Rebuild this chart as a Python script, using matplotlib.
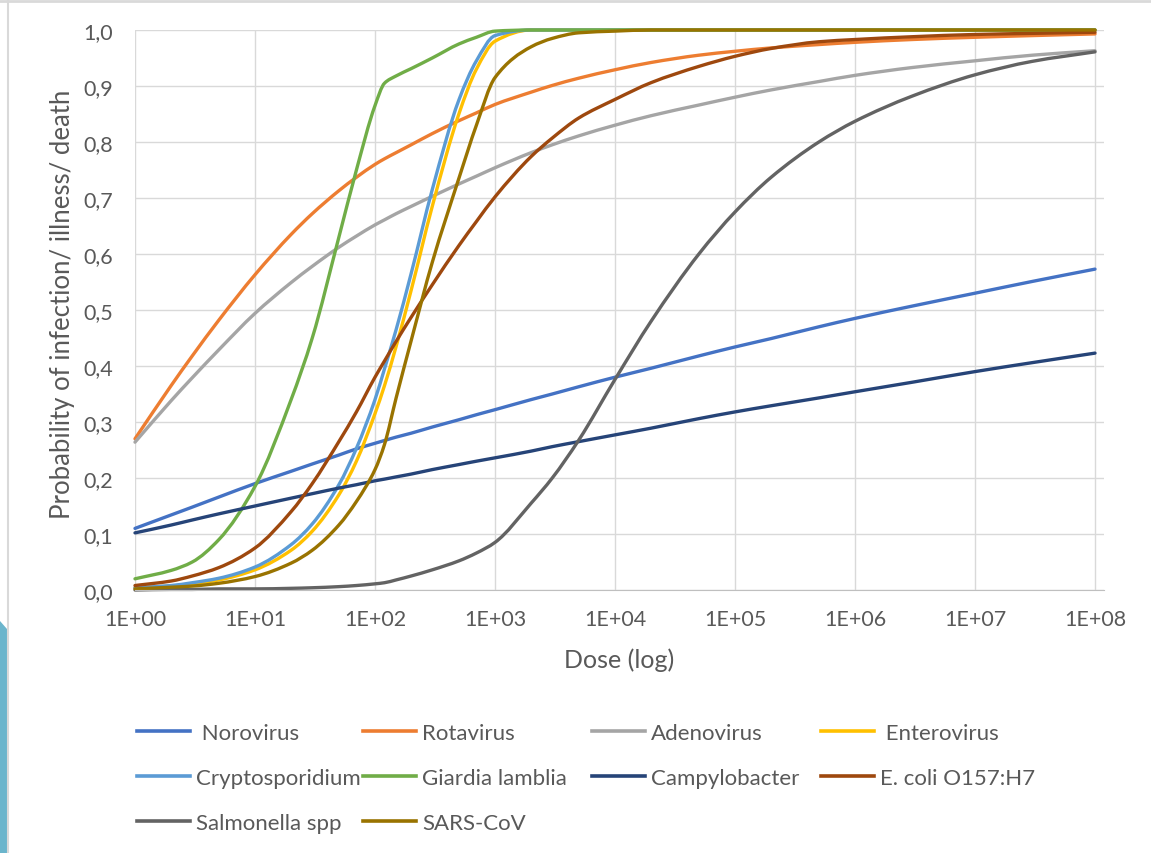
import matplotlib
matplotlib.use('Agg')
import numpy as np
import matplotlib.pyplot as plt
from matplotlib.lines import Line2D
from matplotlib.patches import Polygon, PathPatch
from matplotlib.path import Path
from matplotlib.ticker import FixedLocator, FixedFormatter

# dose points (log axis)
doses = [1, 2, 3, 5, 10, 20, 30, 50, 70, 100, 120, 150, 200, 300, 500, 700,
         1e3, 2e3, 3e3, 5e3, 1e4, 2e4, 5e4, 1e5, 2e5, 5e5, 1e6, 3e6, 1e7, 3e7, 1e8]

norovirus = [0.110, 0.134, 0.148, 0.166, 0.190, 0.212, 0.225, 0.241, 0.252, 0.262, 0.267,
             0.273, 0.280, 0.291, 0.304, 0.313, 0.322, 0.340, 0.350, 0.363, 0.380, 0.396,
             0.418, 0.434, 0.449, 0.470, 0.485, 0.507, 0.530, 0.551, 0.573]
rotavirus = [0.270, 0.365, 0.418, 0.482, 0.563, 0.635, 0.672, 0.713, 0.737, 0.760, 0.770,
             0.781, 0.795, 0.815, 0.838, 0.852, 0.867, 0.889, 0.901, 0.914, 0.929, 0.942,
             0.955, 0.962, 0.968, 0.974, 0.978, 0.983, 0.987, 0.990, 0.993]
adenovirus = [0.264, 0.338, 0.379, 0.429, 0.494, 0.549, 0.578, 0.612, 0.632, 0.652, 0.661,
              0.672, 0.685, 0.703, 0.725, 0.739, 0.754, 0.781, 0.795, 0.811, 0.830, 0.847,
              0.866, 0.880, 0.893, 0.908, 0.919, 0.933, 0.945, 0.955, 0.963]
enterovirus = [0.004, 0.007, 0.011, 0.018, 0.036, 0.071, 0.105, 0.170, 0.230, 0.315, 0.365,
               0.435, 0.535, 0.685, 0.850, 0.930, 0.980, 1.0, 1.0, 1.0, 1.0, 1.0,
               1.0, 1.0, 1.0, 1.0, 1.0, 1.0, 1.0, 1.0, 1.0]
cryptosporidium = [0.004, 0.008, 0.013, 0.021, 0.041, 0.081, 0.118, 0.188, 0.253, 0.340, 0.395,
                   0.465, 0.565, 0.715, 0.875, 0.945, 0.990, 1.0, 1.0, 1.0, 1.0, 1.0,
                   1.0, 1.0, 1.0, 1.0, 1.0, 1.0, 1.0, 1.0, 1.0]
giardia = [0.020, 0.035, 0.050, 0.090, 0.185, 0.340, 0.450, 0.630, 0.750, 0.865, 0.905,
           0.918, 0.931, 0.950, 0.975, 0.987, 0.998, 1.0, 1.0, 1.0, 1.0, 1.0,
           1.0, 1.0, 1.0, 1.0, 1.0, 1.0, 1.0, 1.0, 1.0]
campylobacter = [0.102, 0.116, 0.125, 0.136, 0.150, 0.164, 0.172, 0.182, 0.188, 0.195, 0.198,
                 0.202, 0.207, 0.215, 0.224, 0.230, 0.236, 0.248, 0.256, 0.265, 0.277, 0.289,
                 0.306, 0.318, 0.329, 0.343, 0.354, 0.371, 0.390, 0.406, 0.423]
ecoli = [0.008, 0.016, 0.025, 0.040, 0.075, 0.140, 0.190, 0.265, 0.318, 0.380, 0.409,
         0.444, 0.487, 0.545, 0.615, 0.658, 0.702, 0.774, 0.807, 0.843, 0.876, 0.906,
         0.935, 0.953, 0.967, 0.979, 0.983, 0.988, 0.992, 0.994, 0.996]
salmonella = [0.000, 0.001, 0.001, 0.002, 0.002, 0.003, 0.004, 0.006, 0.008, 0.011, 0.013,
              0.018, 0.025, 0.036, 0.052, 0.066, 0.085, 0.155, 0.200, 0.268, 0.376, 0.480,
              0.600, 0.675, 0.737, 0.800, 0.837, 0.882, 0.920, 0.944, 0.961]
sars = [0.002, 0.005, 0.007, 0.012, 0.024, 0.048, 0.071, 0.116, 0.158, 0.215, 0.260,
        0.343, 0.445, 0.585, 0.735, 0.830, 0.915, 0.970, 0.985, 0.995, 0.998, 1.0,
        1.0, 1.0, 1.0, 1.0, 1.0, 1.0, 1.0, 1.0, 1.0]

names = [' Norovirus', 'Rotavirus', 'Adenovirus', ' Enterovirus', 'Cryptosporidium',
         'Giardia lamblia', 'Campylobacter', 'E. coli O157:H7', 'Salmonella spp', 'SARS-CoV']
series = [norovirus, rotavirus, adenovirus, enterovirus, cryptosporidium,
          giardia, campylobacter, ecoli, salmonella, sars]
colors = ['#4472C4', '#ED7D31', '#A5A5A5', '#FFC000', '#5B9BD5',
          '#70AD47', '#264478', '#9E480E', '#636363', '#997300']

x_ticks = [1, 1e1, 1e2, 1e3, 1e4, 1e5, 1e6, 1e7, 1e8]
x_labels = ['1E+00', '1E+01', '1E+02', '1E+03', '1E+04', '1E+05', '1E+06', '1E+07', '1E+08']
y_ticks = [0.0, 0.1, 0.2, 0.3, 0.4, 0.5, 0.6, 0.7, 0.8, 0.9, 1.0]
y_labels = ['0,0', '0,1', '0,2', '0,3', '0,4', '0,5', '0,6', '0,7', '0,8', '0,9', '1,0']


# smoothed line like Excel's "smoothed line" option: monotone cubic bezier in log-x space
def smooth_path(xs, ys):
    u = np.log10(np.asarray(xs, float))
    y = np.asarray(ys, float)
    h = np.diff(u)
    d = np.diff(y) / h
    m = np.zeros_like(y)
    m[0] = d[0]
    m[-1] = d[-1]
    for i in range(1, len(y) - 1):
        if d[i - 1] * d[i] <= 0:
            m[i] = 0
        else:
            w1 = 2 * h[i] + h[i - 1]
            w2 = h[i] + 2 * h[i - 1]
            m[i] = (w1 + w2) / (w1 / d[i - 1] + w2 / d[i])
    verts = [(xs[0], y[0])]
    codes = [Path.MOVETO]
    for i in range(len(h)):
        verts.append((10 ** (u[i] + h[i] / 3), y[i] + m[i] * h[i] / 3))
        verts.append((10 ** (u[i + 1] - h[i] / 3), y[i + 1] - m[i + 1] * h[i] / 3))
        verts.append((xs[i + 1], y[i + 1]))
        codes += [Path.CURVE4] * 3
    return Path(verts, codes)


plt.rcParams['font.family'] = ['Lato', 'DejaVu Sans']
txt = '#595959'
W, H = 1151, 854

fig = plt.figure(figsize=(W / 100, H / 100), dpi=100)
ax = fig.add_axes([135 / W, 1 - 591 / H, (1104 - 135) / W, (591 - 31) / H])

ax.set_xscale('log')
ax.set_xlim(1, 10 ** 8.075)
ax.set_ylim(0, 1)

handles = []
for s, c, n in zip(series, colors, names):
    p = PathPatch(smooth_path(doses, s), fill=False, edgecolor=c, lw=2.4,
                  capstyle='round', joinstyle='round', clip_on=False)
    ax.add_patch(p)
    handles.append(Line2D([], [], color=c, lw=2.6, label=n))

ax.xaxis.set_major_locator(FixedLocator(x_ticks))
ax.xaxis.set_major_formatter(FixedFormatter(x_labels))
ax.xaxis.set_minor_locator(FixedLocator([]))
ax.set_yticks(y_ticks)
ax.set_yticklabels(y_labels)
ax.grid(True, color='#D9D9D9', lw=1)
ax.set_axisbelow(True)
for side in ['top', 'right', 'left']:
    ax.spines[side].set_visible(False)
ax.spines['bottom'].set_color('#BFBFBF')
ax.tick_params(axis='both', length=0, labelsize=15.5, colors=txt)
ax.tick_params(axis='y', pad=16)
ax.tick_params(axis='x', pad=14)

ax.set_xlabel('Dose (log)', fontsize=18, color=txt)
ax.xaxis.set_label_coords(0.5, -0.102)
ax.set_ylabel('Probability of infection/ illness/ death', fontsize=18.5, color=txt)
ax.yaxis.set_label_coords(-0.062, 0.512)

# legend: four equal-width columns, rows read left to right
col_x = [137, 363, 592, 821]
for k in range(4):
    fig.legend(handles[k::4], names[k::4], loc='upper left',
               bbox_to_anchor=(col_x[k] / W, 1 - 724 / H), frameon=False,
               fontsize=16, labelcolor=txt, handlelength=2.4, handletextpad=0.27,
               labelspacing=1.13, borderaxespad=0, borderpad=0)

# slide decorations
fig.add_artist(Line2D([0, 1], [1 - 2 / H, 1 - 2 / H], color='#D9D9D9', lw=2))
fig.add_artist(Line2D([8 / W, 8 / W], [0, 1], color='#D9D9D9', lw=1.5))
fig.add_artist(Polygon([[0, 0], [7 / W, 0], [7 / W, 1 - 630 / H], [0, 1 - 622 / H]],
                       closed=True, color='#6BB5CC', lw=0))

fig.savefig('out.png', dpi=100)
